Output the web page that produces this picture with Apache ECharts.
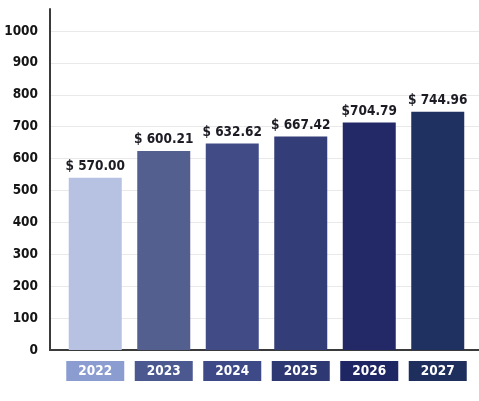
<!DOCTYPE html>
<html>
<head>
<meta charset="utf-8">
<script src="https://cdn.jsdelivr.net/npm/echarts@6/dist/echarts.min.js"></script>
<style>
html,body{margin:0;padding:0;background:#fff;}
#chart{width:479px;height:401px;}
</style>
</head>
<body>
<div id="chart"></div>
<script>
const categories = ['2022', '2023', '2024', '2025', '2026', '2027'];
// bar heights as drawn in the picture
const barValues = [540, 624, 647, 669, 713, 747];
// value labels as printed above each bar
const valueLabels = ['$ 570.00', '$ 600.21', '$ 632.62', '$ 667.42', '$704.79', '$ 744.96'];
const yTicks = [0, 100, 200, 300, 400, 500, 600, 700, 800, 900, 1000];

const barColors = ['#b7c1e2', '#535f8f', '#414c87', '#333d77', '#222966', '#1f3160'];
const boxColors = ['#8b9cd1', '#4b5990', '#3e4a88', '#2e3873', '#1e2663', '#1e2f5e'];

const FONT = '"Liberation Sans Narrow", "DejaVu Sans Condensed", "Roboto", sans-serif';

const rich = {};
categories.forEach((c, i) => {
  rich['b' + i] = {
    backgroundColor: boxColors[i],
    color: '#ffffff',
    width: 58,
    height: 20,
    lineHeight: 20,
    align: 'center',
    fontSize: 13.5,
    fontWeight: 'bold',
    fontFamily: FONT
  };
});

const chart = echarts.init(document.getElementById('chart'), null, {renderer: 'canvas'});
chart.setOption({
  animation: false,
  backgroundColor: '#ffffff',
  grid: [
    {left: 61, right: 7, top: 31, bottom: 51},
    {left: 50, right: 0, top: 31, bottom: 51},
    {left: 50, right: 0, top: 9, bottom: 51}
  ],
  xAxis: [
    {
      gridIndex: 0, type: 'category', data: categories,
      axisLine: {show: false}, axisTick: {show: false},
      axisLabel: {
        margin: 11,
        formatter: (v, i) => '{b' + i + '|' + v + '}',
        rich: rich
      }
    },
    {
      gridIndex: 1, type: 'value', min: 0, max: 1, show: false
    },
    {
      gridIndex: 2, type: 'value', min: 0, max: 1,
      axisLine: {show: true, onZero: false, lineStyle: {color: '#3a3a3a', width: 2}},
      axisTick: {show: false}, axisLabel: {show: false}, splitLine: {show: false}
    }
  ],
  yAxis: [
    {
      gridIndex: 0, type: 'value', min: yTicks[0], max: yTicks[yTicks.length - 1], interval: 100,
      show: false
    },
    {
      gridIndex: 1, type: 'value', min: yTicks[0], max: yTicks[yTicks.length - 1], interval: 100,
      axisLine: {show: false}, axisTick: {show: false},
      axisLabel: {
        margin: 12, color: '#151515', fontSize: 13.5, fontWeight: 'bold', fontFamily: FONT,
        formatter: v => String(v)
      },
      splitLine: {show: true, lineStyle: {color: '#e9e9e9', width: 1}}
    },
    {
      gridIndex: 2, type: 'value', min: 0, max: 1,
      axisLine: {show: true, lineStyle: {color: '#3a3a3a', width: 2}},
      axisTick: {show: false}, axisLabel: {show: false}, splitLine: {show: false}
    }
  ],
  series: [{
    type: 'bar',
    xAxisIndex: 0, yAxisIndex: 0,
    barWidth: 53,
    data: barValues.map((v, i) => ({value: v, itemStyle: {color: barColors[i]}})),
    label: {
      show: true, position: 'top', distance: 4,
      formatter: p => valueLabels[p.dataIndex],
      color: '#1c1c24', fontSize: 13.5, fontWeight: 'bold', fontFamily: FONT
    }
  }]
});
</script>
</body>
</html>
